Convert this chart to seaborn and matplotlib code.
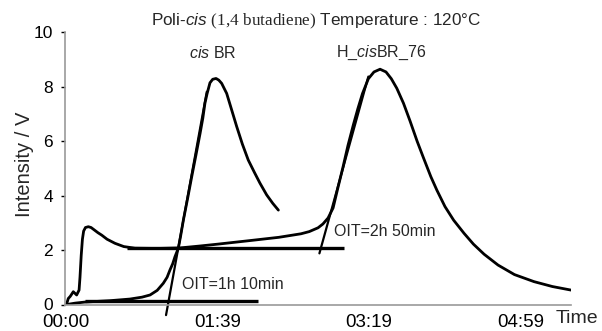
import numpy as np
import pandas as pd
import matplotlib
matplotlib.use("Agg")
import matplotlib.pyplot as plt
import seaborn as sns

# ---- data (time in minutes, intensity in V) ----
cis_time = [0.5, 6.0, 12.5, 28.9, 42.0, 50.0, 55.3, 60.0, 64.0, 66.5, 68.4, 70.2,
            71.7, 73.9, 75.5, 77.2, 80.0, 82.7, 85.5, 88.2, 90.0, 91.4, 92.8, 94.7,
            96.5, 98.7, 100.5, 102.4, 104.0, 105.7, 109.0, 112.3, 116.0, 119.9,
            124.0, 127.6, 132.0, 136.0, 139.7]
cis_int = [0.0, 0.05, 0.09, 0.14, 0.2, 0.27, 0.35, 0.52, 0.78, 1.0, 1.27, 1.5,
           1.76, 2.07, 2.55, 3.1, 3.9, 4.7, 5.5, 6.29, 6.85, 7.4, 7.75, 8.15,
           8.28, 8.31, 8.25, 8.13, 7.95, 7.76, 7.15, 6.54, 5.9, 5.31,
           4.85, 4.46, 4.03, 3.72, 3.47]

h_time = [0.3, 1.5, 2.8, 4.8, 7.0, 8.6, 9.2, 10.0, 10.8, 11.6, 12.8, 14.7, 16.5,
          18.4, 21.0, 23.5, 27.0, 32.2, 38.0, 45.4, 60.0, 75.0, 88.0, 100.0, 121.0,
          140.0, 154.6, 160.0, 165.8, 169.0, 172.4, 175.7, 178.9, 182.2, 185.5,
          189.0, 192.0, 195.0, 198.9, 202.6, 206.6, 210.5, 214.0, 217.6, 222.0,
          226.3, 231.0, 235.1, 240.0, 244.0, 249.3, 255.0, 261.8, 268.0, 275.0,
          284.2, 295.0, 307.9, 320.0, 332.2]
h_int = [0.0, 0.22, 0.3, 0.47, 0.35, 0.53, 1.0, 1.8, 2.4, 2.7, 2.83, 2.86, 2.83,
         2.75, 2.64, 2.55, 2.4, 2.25, 2.13, 2.07, 2.06, 2.08, 2.15, 2.22, 2.35,
         2.47, 2.6, 2.68, 2.82, 2.96, 3.18, 3.55, 4.3, 5.05, 5.85,
         6.6, 7.2, 7.75, 8.3, 8.55, 8.65, 8.55, 8.3, 7.95, 7.4,
         6.75, 6.0, 5.4, 4.7, 4.2, 3.6, 3.1, 2.62, 2.22, 1.85,
         1.45, 1.1, 0.84, 0.66, 0.53]

cis_base_x = [12.5, 126.3]
cis_base_y = [0.13, 0.13]
cis_tan_x = [65.8, 92.6]
cis_tan_y = [-0.39, 7.82]

h_base_x = [40.0, 182.9]
h_base_y = [2.07, 2.07]
h_tan_x = [166.7, 198.9]
h_tan_y = [1.88, 8.38]

tick_pos = [0, 99.67, 199.33, 299]
tick_labels = ["00:00", "01:39", "03:19", "04:59"]
y_ticks = [0, 2, 4, 6, 8, 10]

sns.set_theme(style="white")
plt.rcParams["font.family"] = ["Liberation Sans", "DejaVu Sans"]
plt.rcParams["mathtext.fontset"] = "custom"
plt.rcParams["mathtext.it"] = "Liberation Sans:italic"
plt.rcParams["mathtext.rm"] = "Liberation Sans"
plt.rcParams["mathtext.sf"] = "Liberation Serif"

W, H = 602, 331
fig = plt.figure(figsize=(W / 100, H / 100), dpi=100)
ax = fig.add_axes([65 / W, 1 - 304.5 / H, (571 - 65) / W, (304.5 - 32.5) / H])

df_cis = pd.DataFrame({"t": cis_time, "v": cis_int})
df_h = pd.DataFrame({"t": h_time, "v": h_int})
sns.lineplot(data=df_cis, x="t", y="v", ax=ax, sort=False, estimator=None,
             color="black", lw=2.0)
sns.lineplot(data=df_h, x="t", y="v", ax=ax, sort=False, estimator=None,
             color="black", lw=2.0)

for bx, by in [(cis_base_x, cis_base_y), (h_base_x, h_base_y)]:
    ax.plot(bx, by, color="black", lw=2.4, solid_capstyle="butt")
for tx, ty in [(cis_tan_x, cis_tan_y), (h_tan_x, h_tan_y)]:
    ax.plot(tx, ty, color="black", lw=1.6, clip_on=False)

ax.set_xlim(-0.66, 332.2)
ax.set_ylim(0, 10)
ax.set_xlabel("")
ax.set_ylabel("")
ax.set_xticks(tick_pos)
ax.set_xticklabels(tick_labels, fontsize=13.5)
ax.set_yticks(y_ticks)
ax.set_yticklabels([str(v) for v in y_ticks], fontsize=12.5)
ax.tick_params(axis="x", length=0, pad=7.0, colors="black")
ax.tick_params(axis="y", length=3, width=1, pad=5.5, colors="black", left=True)
for s in ["top", "right"]:
    ax.spines[s].set_visible(False)
for s in ["left", "bottom"]:
    ax.spines[s].set_color("#9a9a9a")
    ax.spines[s].set_linewidth(1.2)
ax.grid(False)

ax.text(336, -0.53, "Time", fontsize=14, ha="center", va="center", clip_on=False)
fig.text(24.5 / W, 1 - 164 / H, "Intensity / V", rotation=90, fontsize=14.5,
         ha="center", va="center")

fig.text(316.5 / W, 1 - 21.7 / H,
         r"Poli-$\mathit{cis}$ $\mathsf{(1{,}4\ butadiene)}$ Temperature : 120°C",
         fontsize=12.3, ha="center", va="center")
ax.text(96.4, 9.24, r"$\mathit{cis}$ BR", fontsize=11.5, ha="center", va="center")
ax.text(207.2, 9.24, r"H_$\mathit{cis}$BR_76", fontsize=11.5, ha="center", va="center")
ax.text(76.1, 0.72, "OIT=1h 10min", fontsize=11.5, ha="left", va="center")
ax.text(176.5, 2.68, "OIT=2h 50min", fontsize=11.5, ha="left", va="center")

fig.savefig("out.png", dpi=100)
